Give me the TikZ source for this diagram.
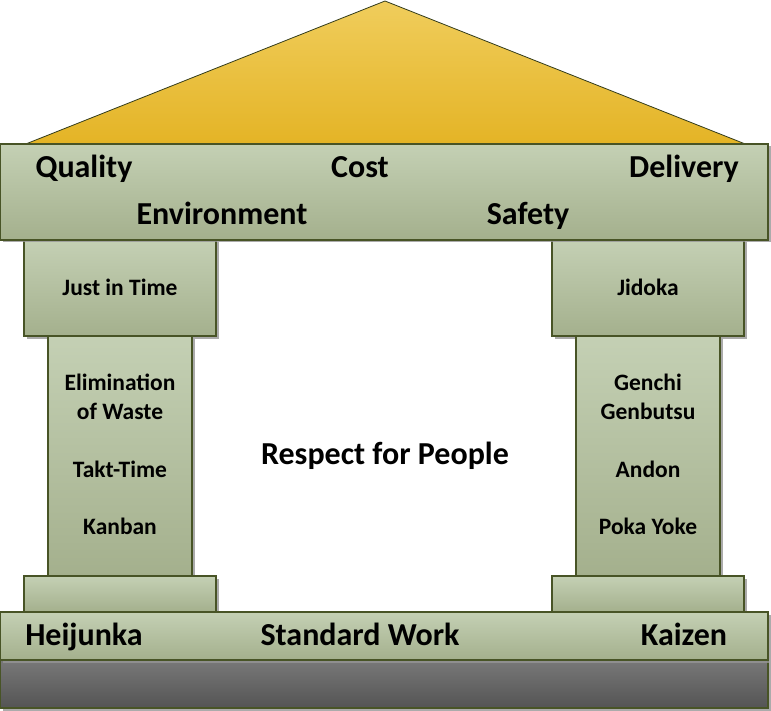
\documentclass[tikz,border=0pt]{standalone}
\usepackage{fontspec}
\setmainfont{Carlito}
\usetikzlibrary{shadows}
\definecolor{gtop}{RGB}{196,208,180}
\definecolor{gbot}{RGB}{164,176,141}
\definecolor{edge}{RGB}{72,84,38}
\definecolor{rtop}{RGB}{240,205,92}
\definecolor{rbot}{RGB}{228,180,38}
\definecolor{dtop}{RGB}{120,120,120}
\definecolor{dbot}{RGB}{84,84,84}
\definecolor{shad}{RGB}{150,150,150}
\tikzset{
  block/.style={rectangle, draw=edge, line width=1.4pt, top color=gtop, bottom color=gbot,
    inner sep=0pt, outer sep=0pt,
    drop shadow={shadow xshift=2.5pt, shadow yshift=-2.5pt, fill=shad, opacity=0.8}},
  darkblock/.style={block, top color=dtop, bottom color=dbot},
  big/.style={font=\fontsize{32}{38}\selectfont\bfseries, inner sep=0pt, anchor=base},
  small/.style={font=\fontsize{23.5}{29}\selectfont\bfseries, inner sep=0pt, align=center, anchor=base},
}
\begin{document}
\begin{tikzpicture}[x=1pt,y=-1pt]
\useasboundingbox (0,0) rectangle (771,711);
% roof
\coordinate (rl) at (27,143.5);
\coordinate (rt) at (385,1);
\coordinate (rr) at (744,143.5);
\shade[top color=rtop, bottom color=rbot] (rl) -- (rt) -- (rr) -- cycle;
\draw[draw=edge!70!black, line width=0.8pt] (rl) -- (rt) -- (rr);
% blocks
\node[block, minimum width=192pt, minimum height=96pt] (capL) at (120,288) {};
\node[block, minimum width=192pt, minimum height=96pt] (capR) at (648,288) {};
\node[block, minimum width=768pt, minimum height=96pt] (beam) at (384,192) {};
\node[block, minimum width=144pt, minimum height=240pt] (shaftL) at (120,456) {};
\node[block, minimum width=144pt, minimum height=240pt] (shaftR) at (648,456) {};
\node[block, minimum width=192pt, minimum height=36pt] (bcapL) at (120,594) {};
\node[block, minimum width=192pt, minimum height=36pt] (bcapR) at (648,594) {};
\node[darkblock, minimum width=768pt, minimum height=48pt] (ground) at (384,684) {};
\node[block, minimum width=768pt, minimum height=48pt] (basebeam) at (384,636) {};
% beam labels
\node[big] (quality) at (84,178) {Quality};
\node[big] (cost) at (360,178) {Cost};
\node[big] (delivery) at (684,178) {Delivery};
\node[big] (env) at (222,225) {Environment};
\node[big] (safety) at (528,225) {Safety};
% pillar labels
\node[small] (jit) at (120,295.5) {Just in Time};
\node[small] (jidoka) at (648,295.5) {Jidoka};
\node[small] (elim) at (120,419.5) {Elimination\\of Waste};
\node[small] (takt) at (120,477.5) {Takt-Time};
\node[small] (kanban) at (120,534) {Kanban};
\node[small] (genchi) at (648,419.5) {Genchi\\Genbutsu};
\node[small] (andon) at (648,477.5) {Andon};
\node[small] (poka) at (648,534) {Poka Yoke};
% center
\node[big] (respect) at (385,464) {Respect for People};
% base labels
\node[big] (heij) at (84,645.5) {Heijunka};
\node[big] (std) at (360,645.5) {Standard Work};
\node[big] (kaizen) at (684,645.5) {Kaizen};
\end{tikzpicture}
\end{document}
